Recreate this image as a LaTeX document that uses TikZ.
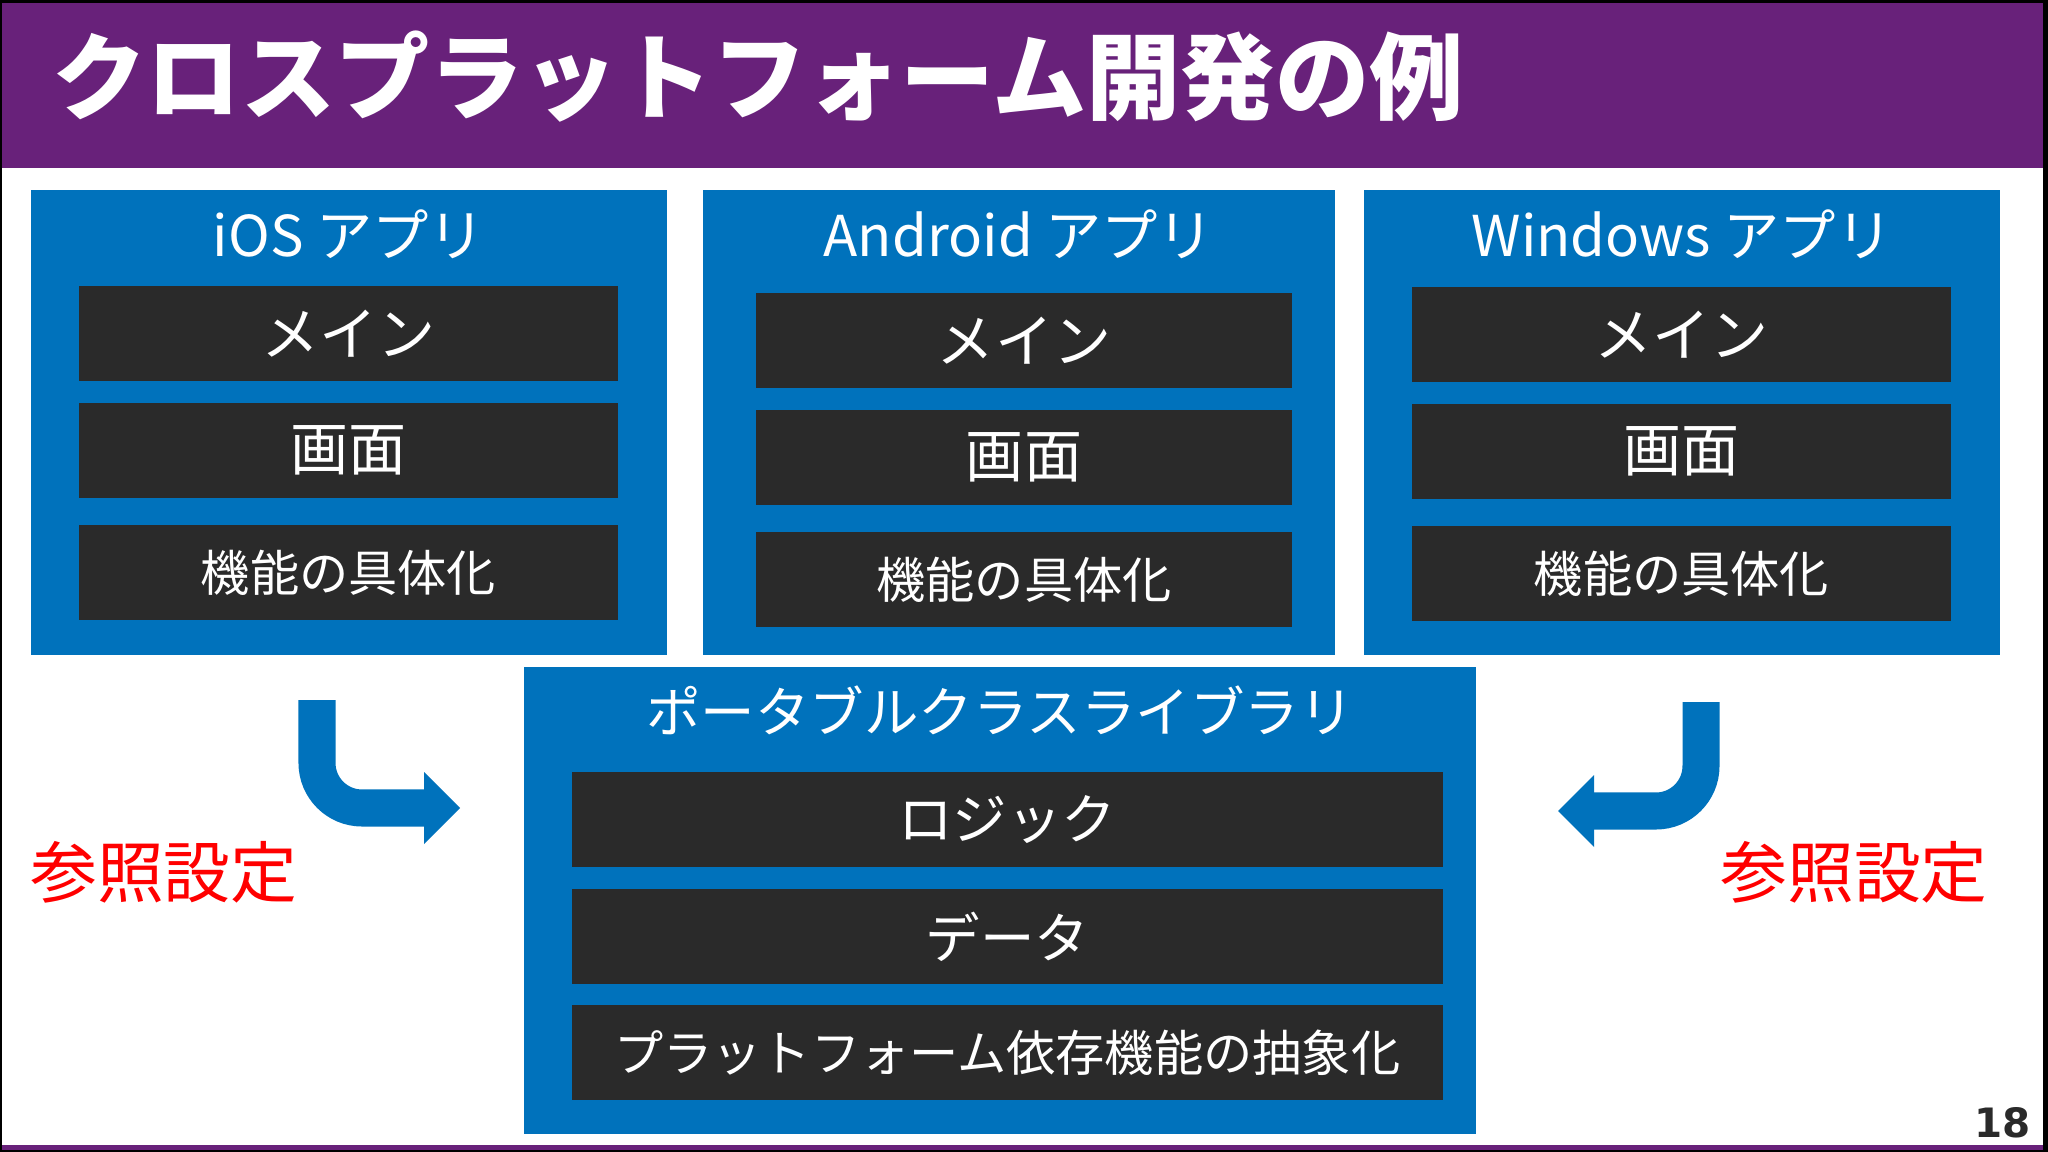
\documentclass[tikz,border=0pt]{standalone}
\usepackage{fontspec}
\setmainfont{Noto Sans CJK JP}
\newfontfamily\numfont{DejaVu Sans}
\usepackage{tikz}
\usetikzlibrary{math}
\definecolor{SlidePurple}{RGB}{104,33,122}
\definecolor{BoxBlue}{RGB}{0,114,188}
\definecolor{BoxDark}{RGB}{42,42,42}
\definecolor{RefRed}{RGB}{255,0,0}
\tikzset{%
  px/.style={x=0.01cm,y=-0.01cm},
  outer box/.style={fill=BoxBlue, inner sep=0pt, outer sep=0pt, anchor=north west},
  part box/.style={fill=BoxDark, text=white, inner sep=0pt, outer sep=0pt, anchor=north west},
  box title/.style={text=white, inner sep=0pt, font=\fontsize{16}{19}\selectfont},
  ref arrow/.style={draw=BoxBlue, line width=0.37cm, rounded corners=0.45cm},
  ref label/.style={text=RefRed, inner sep=0pt, font=\fontsize{19}{22}\selectfont}
}
\begin{document}
\begin{tikzpicture}[px]
    \useasboundingbox (0,0) rectangle (2048,1152);
    % frame and slide title
    \fill[black] (0,0) rectangle (2048,1152);
    \fill[white] (2,3) rectangle (2043,1150);
    \fill[SlidePurple] (2,3) rectangle (2043,168);
    \fill[SlidePurple] (2,1145) rectangle (2043,1150);
    \node[text=white, anchor=west, inner sep=0pt,
      font=\bfseries\fontsize{26.8}{30}\selectfont] (title) at (52,77)
      {クロスプラットフォーム開発の例};
    % platform projects
    \foreach \n/\x/\w/\m/\iw/\dy/\lab in {ios/31/636/48/539/0/iOS,
        android/703/632/53/536/7/Android, win/1364/636/48/539/1/Windows} {
      \node[outer box, minimum width=\w*0.01cm, minimum height=4.65cm] (\n) at (\x,190) {};
      \node[box title] (\n-title) at (\x+\w/2,234) {\lab\ アプリ};
      \node[part box, minimum width=\iw*0.01cm, minimum height=0.95cm,
        font=\fontsize{16.5}{19}\selectfont] (\n-main) at (\x+\m,286+\dy) {メイン};
      \node[part box, minimum width=\iw*0.01cm, minimum height=0.95cm,
        font=\fontsize{16.5}{19}\selectfont] (\n-view) at (\x+\m,403+\dy) {画面};
      \node[part box, minimum width=\iw*0.01cm, minimum height=0.95cm,
        font=\fontsize{14}{17}\selectfont] (\n-impl) at (\x+\m,525+\dy) {機能の具体化};
    }
    % portable class library
    \node[outer box, minimum width=9.51cm, minimum height=4.67cm] (pcl) at (524,667) {};
    \node[box title, font=\fontsize{15.5}{18}\selectfont] (pcl-title) at (1000,710)
      {ポータブルクラスライブラリ};
    \foreach \r/\y/\s/\lab in {logic/772/15.5/ロジック, data/889/15.5/データ,
        abstr/1005/14/プラットフォーム依存機能の抽象化} {
      \node[part box, minimum width=8.70cm, minimum height=0.95cm,
        font=\fontsize{\s}{18}\selectfont] (pcl-\r) at (572,\y) {\lab};
    }
    % reference arrows
    \coordinate (la-top) at (317,700);
    \coordinate (la-end) at (426,808);
    \draw[ref arrow] (la-top) -- (317,808) -- (la-end);
    \fill[BoxBlue] (424,772) -- (460,808) -- (424,844) -- cycle;
    \coordinate (ra-top) at (1701,702);
    \coordinate (ra-end) at (1592,811);
    \draw[ref arrow] (ra-top) -- (1701,811) -- (ra-end);
    \fill[BoxBlue] (1594,775) -- (1558,811) -- (1594,847) -- cycle;
    \node[ref label] (ref-left) at (164,872) {参照設定};
    \node[ref label] (ref-right) at (1854,872) {参照設定};
    % page number
    \node[inner sep=0pt, anchor=east, text=BoxDark,
      font=\numfont\bfseries\fontsize{11.5}{14}\selectfont] (page) at (2031,1123) {18};
\end{tikzpicture}
\end{document}
